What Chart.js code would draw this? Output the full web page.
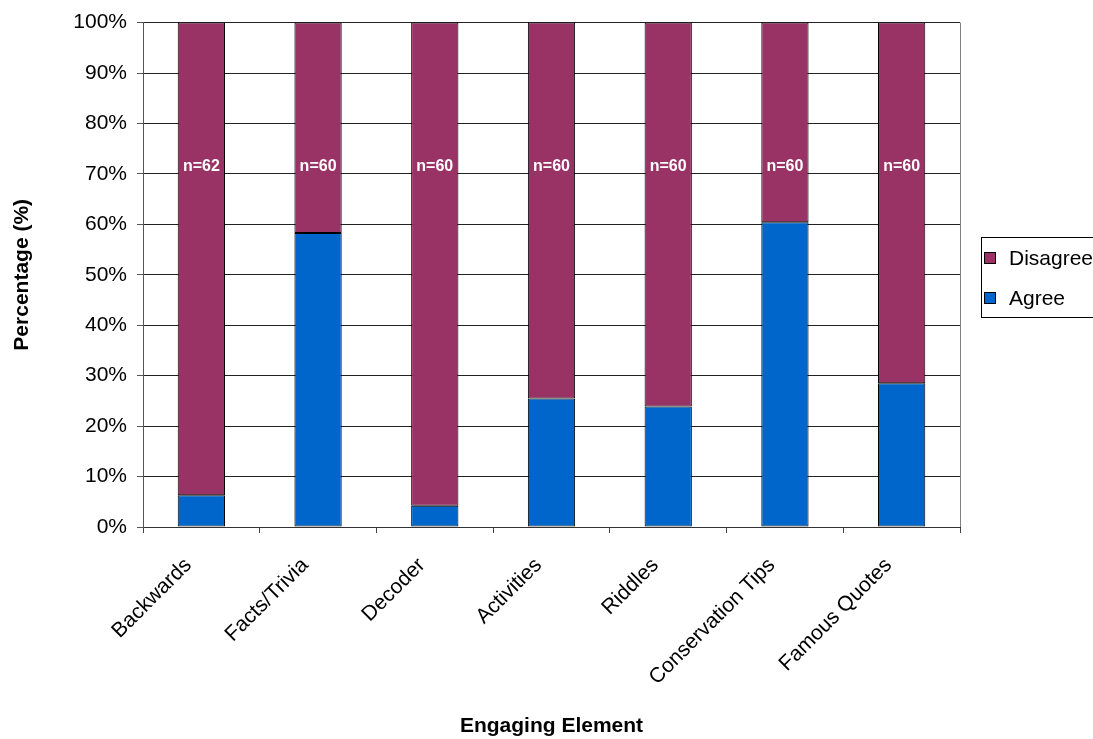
<!DOCTYPE html>
<html>
<head>
<meta charset="utf-8">
<title>Engaging Element</title>
<script src="https://cdn.jsdelivr.net/npm/chart.js@4.4.1/dist/chart.umd.min.js"></script>
<style>
  html, body { margin: 0; padding: 0; background: #fff; overflow: hidden; }
  #grafica { display: block; }
</style>
</head>
<body>
<canvas id="grafica" width="1093" height="739"></canvas>
<script>
// categories on the x axis
const categories = ["Backwards", "Facts/Trivia", "Decoder", "Activities", "Riddles", "Conservation Tips", "Famous Quotes"];
// percentages per category
const agree = [6.3, 58.3, 4.2, 25.5, 23.9, 60.4, 28.5];
const disagree = [93.7, 41.7, 95.8, 74.5, 76.1, 39.6, 71.5];
// respondents per category
const sampleSizes = [62, 60, 60, 60, 60, 60, 60];
// y axis ticks
const yTicks = [0, 10, 20, 30, 40, 50, 60, 70, 80, 90, 100];

const FONT = '"Liberation Sans", Arial, sans-serif';
const AGREE_COLOR = "#0066CC";
const DISAGREE_COLOR = "#993366";
const N_LEVEL = 71.5; // height of the n= labels, in %

// n=.. labels inside the disagree bars + right border of the plot
const annotations = {
  id: "annotations",
  afterDatasetsDraw(chart) {
    const { ctx, chartArea, scales } = chart;
    const meta = chart.getDatasetMeta(1);
    ctx.save();
    ctx.fillStyle = "#fff";
    ctx.font = "bold 16px " + FONT;
    ctx.textAlign = "center";
    ctx.textBaseline = "middle";
    meta.data.forEach((bar, i) => {
      ctx.fillText("n=" + sampleSizes[i], bar.x, scales.y.getPixelForValue(N_LEVEL));
    });
    ctx.strokeStyle = "#808080";
    ctx.lineWidth = 1;
    ctx.beginPath();
    ctx.moveTo(Math.round(chartArea.right) + 0.5, chartArea.top);
    ctx.lineTo(Math.round(chartArea.right) + 0.5, chartArea.bottom);
    ctx.stroke();
    ctx.restore();
  }
};

// legend in a framed box to the right of the plot
const boxedLegend = {
  id: "boxedLegend",
  afterDraw(chart) {
    const ctx = chart.ctx;
    const left = Math.round(chart.chartArea.right) + 21;
    const top = 237;
    ctx.save();
    ctx.strokeStyle = "#000";
    ctx.lineWidth = 1;
    ctx.strokeRect(left + 0.5, top + 0.5, 200, 80);
    const items = chart.data.datasets.slice().reverse();
    items.forEach((ds, i) => {
      const cy = top + 21 + i * 40;
      ctx.fillStyle = ds.backgroundColor;
      ctx.fillRect(left + 3, cy - 6, 12, 12);
      ctx.strokeStyle = "#000";
      ctx.strokeRect(left + 3.5, cy - 5.5, 11, 11);
      ctx.fillStyle = "#000";
      ctx.font = "21px " + FONT;
      ctx.textAlign = "left";
      ctx.textBaseline = "middle";
      ctx.fillText(ds.label, left + 28, cy + 1);
    });
    ctx.restore();
  }
};

const ctx = document.getElementById("grafica").getContext("2d");

new Chart(ctx, {
  type: "bar",
  data: {
    labels: categories,
    datasets: [
      {
        label: "Agree",
        data: agree,
        backgroundColor: AGREE_COLOR,
        borderColor: "#000",
        borderWidth: 1,
        borderSkipped: false,
        barPercentage: 0.405,
        categoryPercentage: 1
      },
      {
        label: "Disagree",
        data: disagree,
        backgroundColor: DISAGREE_COLOR,
        borderColor: "#000",
        borderWidth: 1,
        borderSkipped: false,
        barPercentage: 0.405,
        categoryPercentage: 1
      }
    ]
  },
  options: {
    responsive: false,
    animation: false,
    devicePixelRatio: 1,
    layout: { padding: { top: 20, right: 133, left: 0, bottom: 0 } },
    plugins: {
      legend: { display: false },
      tooltip: { enabled: false }
    },
    scales: {
      x: {
        stacked: true,
        afterFit(scale) { scale.height = 212; },
        grid: {
          offset: true,
          drawOnChartArea: false,
          drawTicks: true,
          tickLength: 6,
          color: "#444"
        },
        border: { color: "#333", width: 1 },
        ticks: {
          autoSkip: false,
          minRotation: 45,
          maxRotation: 45,
          padding: 20,
          labelOffset: -13,
          color: "#000",
          font: { family: FONT, size: 21 }
        },
        title: {
          display: true,
          text: "Engaging Element",
          color: "#000",
          font: { family: FONT, size: 21, weight: "bold" },
          padding: { top: 0, bottom: 0 }
        }
      },
      y: {
        stacked: true,
        min: 0,
        max: 100,
        afterFit(scale) { scale.width = 143; },
        afterBuildTicks(scale) { scale.ticks = yTicks.map(v => ({ value: v })); },
        grid: {
          color: "#222",
          tickLength: 6,
          tickColor: "#555"
        },
        border: { color: "#555", width: 1 },
        ticks: {
          padding: 10,
          color: "#000",
          font: { family: FONT, size: 21 },
          callback: v => v + "%"
        },
        title: {
          display: true,
          text: "Percentage (%)",
          color: "#000",
          font: { family: FONT, size: 21, weight: "bold" },
          padding: { top: 10, bottom: 0 }
        }
      }
    }
  },
  plugins: [annotations, boxedLegend]
});
</script>
</body>
</html>
